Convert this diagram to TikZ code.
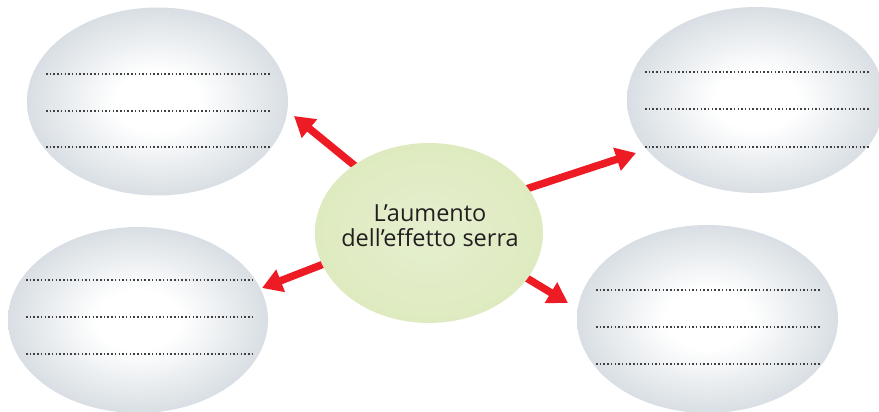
\documentclass[tikz,border=0pt]{standalone}
\usepackage{fontspec}
\setmainfont{Open Sans}
\usetikzlibrary{shapes.geometric,arrows.meta}
\definecolor{grayedge}{RGB}{154,169,180}
\definecolor{graymid}{RGB}{200,209,216}
\definecolor{greenedge}{RGB}{212,227,168}
\definecolor{greenmid}{RGB}{229,239,207}
\definecolor{arrowred}{RGB}{237,28,36}
\definecolor{textgray}{RGB}{35,31,32}
\pgfdeclareradialshading{grayball}{\pgfpoint{0bp}{0bp}}{color(0bp)=(white); color(8bp)=(white); color(32bp)=(graymid); color(50bp)=(grayedge)}
\pgfdeclareradialshading{greenball}{\pgfpoint{0bp}{0bp}}{color(0bp)=(greenmid); color(20bp)=(greenmid!70!greenedge); color(50bp)=(greenedge)}
\tikzset{
  bubble/.style={ellipse, inner sep=0pt, minimum width=261pt, minimum height=188pt, shading=grayball},
  hub/.style={ellipse, inner sep=0pt, minimum width=228pt, minimum height=180pt, shading=greenball},
  hubtext/.style={text=textgray, font=\fontsize{23.5pt}{25pt}\selectfont, align=center, inner sep=0pt},
  writeline/.style={line width=1.3pt, dash pattern=on 1.5pt off 2.2pt, black!75},
  redarrow/.style={draw=arrowred, line width=7.5pt, -{Triangle[length=20pt,width=23pt]}}
}
\begin{document}
\begin{tikzpicture}[x=1pt,y=-1pt]
\useasboundingbox (0,0) rectangle (879,412);
% outer bubbles
\node[bubble] (tl) at (157.5,101.5) {};
\node[bubble, minimum width=258pt, minimum height=186pt] (tr) at (756,100) {};
\node[bubble, minimum width=260pt, minimum height=186pt] (bl) at (138,320) {};
\node[bubble, minimum width=261pt, minimum height=188pt] (br) at (707.5,319) {};
% writing lines
\foreach \y in {74,111,147} \draw[writeline] (46,\y) -- (271,\y);
\foreach \y in {72,109,147} \draw[writeline] (645,\y) -- (870,\y);
\foreach \y in {280,317,354} \draw[writeline] (26,\y) -- (252,\y);
\foreach \y in {290,327,364} \draw[writeline] (596,\y) -- (821,\y);
% arrow coordinates
\coordinate (s1) at (360,170);
\coordinate (t1) at (294,116);
\coordinate (s2) at (520,191);
\coordinate (t2) at (636,153);
\coordinate (s3) at (334,260);
\coordinate (t3) at (262,288);
\coordinate (s4) at (515,271);
\coordinate (t4) at (568,303);
\draw[redarrow] (s1) -- (t1);
\draw[redarrow] (s2) -- (t2);
\draw[redarrow] (s3) -- (t3);
\draw[redarrow] (s4) -- (t4);
% hub
\node[hub] (c) at (429,233) {};
\node[hubtext] (ct) at (430,226) {L’aumento\\dell’effetto serra};
\end{tikzpicture}
\end{document}
